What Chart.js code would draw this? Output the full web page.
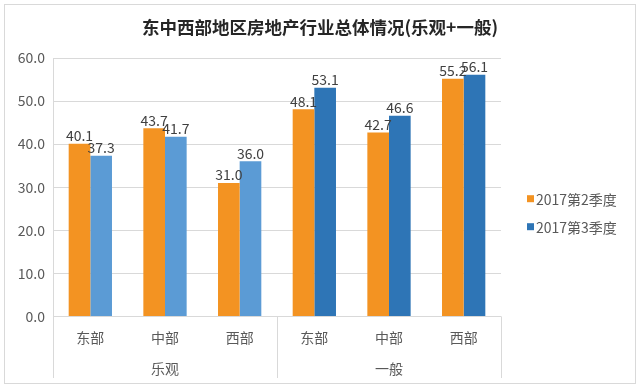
<!DOCTYPE html>
<html>
<head>
<meta charset="utf-8">
<script src="https://cdn.jsdelivr.net/npm/chart.js@4/dist/chart.umd.min.js"></script>
<style>
  html, body { margin: 0; padding: 0; background: #fff; }
  #wrap { width: 640px; height: 390px; }
</style>
</head>
<body>
<div id="wrap"><canvas id="myChart" width="640" height="390"></canvas></div>
<script>
// data
const regions = ["东部", "中部", "西部", "东部", "中部", "西部"];
const groups = ["乐观", "一般"];
const q2Values = [40.1, 43.7, 31.0, 48.1, 42.7, 55.2];
const q3Values = [37.3, 41.7, 36.0, 53.1, 46.6, 56.1];
const seriesNames = ["2017第2季度", "2017第3季度"];
const yTicks = [0, 10, 20, 30, 40, 50, 60];

const FONT = '"Noto Sans CJK SC", "Liberation Sans", sans-serif';
const orange = "#F39322";
const lightBlue = "#5B9BD5";
const darkBlue = "#2E75B6";
const q3Colors = q3Values.map((v, i) => (i < 3 ? lightBlue : darkBlue));
const legendColors = [orange, darkBlue];

// outer frame, group dividers, legend
const framePlugin = {
  id: "frame",
  beforeDraw(chart) {
    const ctx = chart.ctx;
    ctx.save();
    ctx.fillStyle = "#fff";
    ctx.fillRect(0, 0, chart.width, chart.height);
    ctx.strokeStyle = "#d9d9d9";
    ctx.lineWidth = 1;
    ctx.strokeRect(4.5, 4.5, 631, 379);
    ctx.restore();
  },
  afterDraw(chart) {
    const ctx = chart.ctx;
    const x = chart.scales.x;
    const x2 = chart.scales.x2;
    const area = chart.chartArea;
    const half = (x.getPixelForValue(1) - x.getPixelForValue(0)) / 2;
    const bounds = [x.getPixelForValue(0) - half, x.getPixelForValue(2) + half, x.getPixelForValue(5) + half];
    ctx.save();
    ctx.strokeStyle = "#d9d9d9";
    ctx.lineWidth = 1;
    bounds.forEach(b => {
      const px = Math.round(b) + 0.5;
      ctx.beginPath();
      ctx.moveTo(px, area.bottom);
      ctx.lineTo(px, x2.bottom);
      ctx.stroke();
    });

    // legend
    ctx.font = "14px " + FONT;
    ctx.textBaseline = "middle";
    ctx.textAlign = "left";
    const lx = area.right + 26;
    const ly = (area.top + area.bottom) / 2 + 12;
    seriesNames.forEach((name, i) => {
      const cy = ly + i * 28;
      ctx.fillStyle = legendColors[i];
      ctx.fillRect(lx, cy - 4, 7, 7);
      ctx.fillStyle = "#595959";
      ctx.fillText(name, lx + 9, cy);
    });
    ctx.restore();
  }
};

// value labels above bars
const valueLabels = {
  id: "valueLabels",
  afterDatasetsDraw(chart) {
    const ctx = chart.ctx;
    ctx.save();
    ctx.font = "14px " + FONT;
    ctx.fillStyle = "#404040";
    ctx.textAlign = "center";
    ctx.textBaseline = "bottom";
    chart.data.datasets.forEach((ds, di) => {
      chart.getDatasetMeta(di).data.forEach((bar, i) => {
        ctx.fillText(ds.data[i].toFixed(1), bar.x, bar.y - 1);
      });
    });
    ctx.restore();
  }
};

new Chart(document.getElementById("myChart"), {
  type: "bar",
  data: {
    labels: regions,
    datasets: [
      { label: seriesNames[0], data: q2Values, backgroundColor: orange, categoryPercentage: 0.58, barPercentage: 1.0 },
      { label: seriesNames[1], data: q3Values, backgroundColor: q3Colors, categoryPercentage: 0.58, barPercentage: 1.0 }
    ]
  },
  options: {
    responsive: false,
    animation: false,
    layout: { padding: { left: 0, right: 0, top: 0, bottom: 12 } },
    plugins: {
      tooltip: { enabled: false },
      legend: { display: false },
      title: {
        display: true,
        text: "东中西部地区房地产行业总体情况(乐观+一般)",
        color: "#262626",
        font: { family: FONT, size: 17.5, weight: "bold" },
        padding: { top: 17, bottom: 20 }
      }
    },
    scales: {
      y: {
        min: 0,
        max: 60,
        afterFit: s => { s.width = 53; },
        afterBuildTicks: s => { s.ticks = yTicks.map(v => ({ value: v })); },
        ticks: {
          color: "#595959",
          font: { family: FONT, size: 14 },
          padding: 8,
          callback: v => Number(v).toFixed(1)
        },
        grid: { color: "#d9d9d9", drawTicks: false },
        border: { display: true, color: "#d9d9d9" }
      },
      // empty right-hand axis that reserves room for the legend
      legendSpace: {
        position: "right",
        min: 0,
        max: 60,
        afterFit: s => { s.width = 139; },
        ticks: { display: false },
        grid: { display: false, drawTicks: false },
        border: { display: false }
      },
      x: {
        weight: 1,
        ticks: {
          color: "#595959",
          font: { family: FONT, size: 14 },
          padding: 13
        },
        grid: { display: false, drawTicks: false },
        border: { display: false }
      },
      x2: {
        type: "category",
        labels: groups,
        position: "bottom",
        weight: 2,
        offset: true,
        ticks: {
          color: "#595959",
          font: { family: FONT, size: 14 },
          padding: 1
        },
        grid: { display: false, drawTicks: false },
        border: { display: false }
      }
    }
  },
  plugins: [framePlugin, valueLabels]
});
</script>
</body>
</html>
